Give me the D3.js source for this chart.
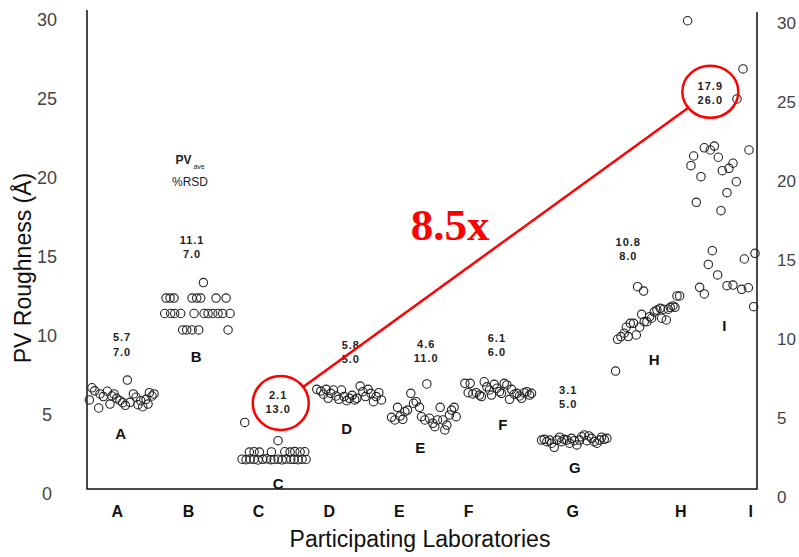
<!DOCTYPE html>
<html>
<head>
<meta charset="utf-8">
<script src="https://cdn.jsdelivr.net/npm/d3@7"></script>
<style>
  body { margin: 0; background: #fff; }
  svg { display: block; font-family: 'Liberation Sans', Arial, sans-serif; }
</style>
</head>
<body>
<div id="chart"></div>
<script>
// PV roughness by participating laboratory, each point is one run: [run position, PV (Å)]
const labs = ['A', 'B', 'C', 'D', 'E', 'F', 'G', 'H', 'I']
const labTickPos = [4.3, 15.0, 25.5, 36.1, 46.6, 57.0, 72.6, 88.8, 99.3]
const pvAve = ['5.7', '11.1', '2.1', '5.8', '4.6', '6.1', '3.1', '10.8', '17.9']
const pctRsd = ['7.0', '7.0', '13.0', '5.0', '11.0', '6.0', '5.0', '8.0', '26.0']
const yTicks = [0, 5, 10, 15, 20, 25, 30]

const labA = [
  [0.2, 5.70], [0.6, 6.47], [1.0, 6.28], [1.6, 5.19], [1.8, 6.08], [2.3, 5.91], [2.9, 6.25],
  [3.3, 5.44], [3.6, 5.95], [3.9, 6.08], [4.3, 5.80], [4.8, 5.65], [5.2, 5.53], [5.6, 5.36],
  [5.9, 6.96], [6.3, 5.55], [6.8, 6.08], [7.2, 5.87], [7.5, 5.40], [7.9, 5.65], [8.2, 5.27],
  [8.7, 5.74], [9.0, 5.44], [9.2, 6.16], [9.6, 5.95], [9.9, 6.08]
]
const labB = [
  [17.3, 13.13],
  [11.7, 12.15], [12.3, 12.15], [12.9, 12.15], [15.6, 12.15], [16.3, 12.15], [16.9, 12.15], [19.2, 12.15], [20.7, 12.15],
  [11.5, 11.17], [12.4, 11.17], [13.0, 11.17], [13.9, 11.17], [15.9, 11.17], [17.4, 11.17], [18.0, 11.17],
  [18.7, 11.17], [19.5, 11.17], [20.2, 11.17], [21.3, 11.17],
  [14.2, 10.13], [14.8, 10.13], [15.6, 10.13], [16.6, 10.13], [21.0, 10.13]
]
const labC = [
  [23.5, 4.28], [28.5, 3.12],
  [23.1, 1.95], [23.7, 1.92], [24.3, 1.96], [24.9, 1.93], [25.5, 1.90], [26.2, 1.94], [26.8, 1.97],
  [27.4, 1.92], [27.9, 1.93], [28.5, 1.95], [29.1, 1.91], [29.7, 1.96], [30.4, 1.93], [30.9, 1.94],
  [31.5, 1.92], [32.1, 1.95], [32.7, 1.93],
  [24.2, 2.40], [24.9, 2.42], [25.7, 2.40], [27.5, 2.41], [29.5, 2.42], [30.3, 2.40], [31.0, 2.43],
  [31.8, 2.41], [32.5, 2.42]
]
const labD = [
  [34.3, 6.37], [34.9, 6.26], [35.3, 6.06], [35.7, 6.37], [36.0, 5.80], [36.4, 6.12], [36.8, 6.33],
  [37.2, 5.95], [37.6, 5.74], [38.0, 6.33], [38.4, 5.91], [38.8, 5.65], [39.2, 5.80], [39.6, 5.99],
  [40.0, 5.70], [40.3, 5.80], [40.8, 6.58], [41.2, 6.22], [41.6, 5.91], [42.0, 6.37], [42.4, 6.12],
  [42.8, 5.59], [43.2, 5.91], [43.6, 6.16], [44.0, 5.70]
]
const labE = [
  [45.5, 4.60], [46.0, 4.43], [46.4, 5.23], [46.8, 4.68], [47.2, 4.47], [47.5, 4.96], [47.9, 5.06],
  [48.4, 6.12], [48.8, 5.49], [49.2, 5.59], [49.7, 5.23], [50.0, 4.64], [50.5, 4.43], [50.8, 6.71],
  [51.2, 4.54], [51.7, 4.22], [52.0, 4.01], [52.4, 4.43], [52.8, 5.23], [53.2, 4.43], [53.5, 3.80],
  [53.8, 4.11], [54.2, 4.75], [54.5, 5.06], [54.9, 5.23], [55.2, 4.64]
]
const labF = [
  [56.5, 6.75], [57.3, 6.75], [57.0, 6.16], [57.7, 6.08], [58.2, 6.16], [58.7, 6.01], [59.0, 5.91],
  [59.4, 6.85], [59.8, 6.53], [60.2, 6.33], [60.5, 6.01], [60.9, 6.69], [61.3, 6.44], [61.7, 6.22],
  [62.0, 6.12], [62.4, 6.75], [62.8, 6.65], [63.2, 5.74], [63.5, 6.37], [63.9, 6.06], [64.3, 6.12],
  [64.7, 5.95], [65.0, 5.80], [65.4, 6.16], [65.8, 6.22], [66.2, 6.01], [66.5, 6.12]
]
const labG = [
  [68.0, 3.16], [68.4, 3.21], [68.8, 3.06], [69.2, 3.16], [69.5, 2.96], [69.9, 2.70], [70.3, 3.16],
  [70.7, 3.34], [71.0, 3.06], [71.4, 3.21], [71.8, 3.16], [72.2, 2.96], [72.5, 3.27], [72.9, 3.12],
  [73.3, 2.85], [73.7, 3.16], [74.0, 3.37], [74.4, 3.48], [74.8, 3.12], [75.1, 3.42], [75.5, 3.27],
  [75.9, 3.06], [76.3, 2.96], [76.7, 3.16], [77.0, 3.34], [77.4, 3.21], [77.8, 3.27]
]
const labH = [
  [79.1, 7.53], [82.4, 12.87], [83.3, 12.59],
  [79.4, 9.54], [79.9, 9.71], [80.4, 9.92], [80.7, 10.30], [81.0, 9.71], [81.3, 10.55], [81.8, 10.55],
  [82.2, 9.81], [82.7, 10.30], [83.0, 11.12], [83.4, 10.65], [83.8, 10.65], [84.2, 10.97], [84.5, 10.87],
  [84.9, 11.28], [85.3, 11.39], [85.8, 11.50], [86.0, 10.87], [86.3, 11.44], [86.7, 10.76], [87.0, 11.44],
  [87.3, 11.56], [87.7, 11.65], [88.0, 11.56], [88.3, 12.28], [88.7, 12.28]
]
const labI = [
  [89.9, 29.70], [98.2, 26.65], [97.3, 24.75], [92.4, 21.66], [93.3, 21.52], [93.9, 21.77], [90.8, 21.14],
  [90.4, 20.53], [94.5, 21.06], [95.1, 20.21], [96.1, 20.36], [96.7, 20.68], [99.1, 21.52], [91.9, 19.83],
  [97.2, 19.51], [95.8, 18.82], [91.2, 18.21], [94.9, 17.68], [93.6, 15.15], [100.0, 14.98], [98.4, 14.62],
  [93.0, 14.28], [94.4, 13.61], [91.7, 12.83], [92.4, 12.41], [95.8, 12.93], [96.7, 12.97], [98.0, 12.70],
  [99.0, 12.80], [99.8, 11.60]
]
const runs = [labA, labB, labC, labD, labE, labF, labG, labH, labI]

// where the annotations sit, in chart units
const statAnchor = [[5.1, 9.68], [15.6, 15.82], [28.5, 6.01], [39.4, 9.18], [50.7, 9.24], [61.3, 9.62], [72.0, 6.33], [81.0, 15.70], [93.3, 25.57]]
const letterAnchor = [[4.9, 3.54], [16.2, 8.42], [28.5, 0.38], [38.8, 3.86], [49.8, 2.66], [62.2, 4.11], [73.0, 1.39], [84.9, 8.23], [95.4, 10.38]]

const width = 799
const height = 557

const svg = d3.select('#chart').append('svg')
  .attr('width', width)
  .attr('height', height)

svg.append('rect').attr('width', width).attr('height', height).attr('fill', '#fff')

const x = d3.scaleLinear().domain([0, 100]).range([88, 755])
const y = d3.scaleLinear().domain([0, 30]).range([490, 16])

// frame: left, bottom and right lines
const left = x(0) - 1
const right = x(100) + 2
const bottom = y(0) - 1
svg.append('path')
  .attr('d', `M${left},10 L${left},${bottom} L${right},${bottom} L${right},12`)
  .attr('fill', 'none')
  .attr('stroke', '#111')
  .attr('stroke-width', 1.5)

// y tick labels on both sides
let yl = svg.append('g')
  .attr('transform', 'translate(47,0)')
  .call(d3.axisLeft(y).tickValues(yTicks).tickSize(0).tickPadding(0))
yl.select('.domain').remove()
yl.selectAll('text')
  .attr('x', 0)
  .attr('dy', '0.55em')
  .attr('text-anchor', 'middle')
  .attr('font-size', 18)
  .attr('font-family', 'Liberation Sans, Arial, sans-serif')
  .attr('fill', '#444')

let yr = svg.append('g')
  .attr('transform', 'translate(777,0)')
  .call(d3.axisRight(y).tickValues(yTicks).tickSize(0).tickPadding(0))
yr.select('.domain').remove()
yr.selectAll('text')
  .attr('x', 0)
  .attr('dy', '0.75em')
  .attr('text-anchor', 'start')
  .attr('font-size', 17)
  .attr('font-family', 'Liberation Sans, Arial, sans-serif')
  .attr('fill', '#444')

// lab names under the frame
let xa = svg.append('g')
  .attr('transform', 'translate(0,506)')
  .call(d3.axisBottom(x).tickValues(labTickPos).tickFormat((d, i) => labs[i]).tickSize(0).tickPadding(0))
xa.select('.domain').remove()
xa.selectAll('text')
  .attr('font-size', 16)
  .attr('font-weight', 'bold')
  .attr('font-family', 'Liberation Sans, Arial, sans-serif')
  .attr('fill', '#111')

svg.append('text')
  .attr('x', 420)
  .attr('y', 547)
  .attr('text-anchor', 'middle')
  .attr('font-size', 23)
  .attr('fill', '#111')
  .text('Participating Laboratories')

svg.append('text')
  .attr('transform', 'translate(31,268) rotate(-90)')
  .attr('text-anchor', 'middle')
  .attr('font-size', 23)
  .attr('fill', '#111')
  .text('PV Roughness (Å)')

// runs
let lab = svg.selectAll('.lab')
  .data(runs)
  .enter()
  .append('g')
  .attr('class', 'lab')
lab.selectAll('circle')
  .data(d => d)
  .enter()
  .append('circle')
  .attr('cx', d => x(d[0]))
  .attr('cy', d => y(d[1]))
  .attr('r', 4.2)
  .attr('fill', 'none')
  .attr('stroke', '#222')
  .attr('stroke-width', 1.1)

// lab letters near each cluster
svg.selectAll('.letter')
  .data(labs)
  .enter()
  .append('text')
  .attr('class', 'letter')
  .attr('x', (d, i) => x(letterAnchor[i][0]))
  .attr('y', (d, i) => y(letterAnchor[i][1]))
  .attr('dy', '0.36em')
  .attr('text-anchor', 'middle')
  .attr('font-size', 15)
  .attr('font-weight', 'bold')
  .attr('fill', '#111')
  .text(d => d)

// PVave / %RSD pairs
let stat = svg.selectAll('.stat')
  .data(labs)
  .enter()
  .append('g')
  .attr('class', 'stat')
  .attr('transform', (d, i) => `translate(${x(statAnchor[i][0])},${y(statAnchor[i][1])})`)
  .attr('text-anchor', 'middle')
  .attr('font-size', 11)
  .attr('font-weight', 'bold')
  .attr('letter-spacing', 1)
  .attr('fill', '#222')
stat.append('text')
  .attr('dy', '0.36em')
  .text((d, i) => pvAve[i])
stat.append('text')
  .attr('dy', '0.36em')
  .attr('y', 14.5)
  .text((d, i) => pctRsd[i])

let key = svg.append('g')
  .attr('font-size', 12)
  .attr('fill', '#222')
  .attr('text-anchor', 'middle')
key.append('text')
  .attr('x', x(15.3))
  .attr('y', y(20.89))
  .attr('dy', '0.36em')
  .attr('font-weight', 'bold')
  .text('PV')
  .append('tspan')
  .attr('dx', 2)
  .attr('dy', 5)
  .attr('font-size', 7)
  .attr('font-weight', 'normal')
  .text('ave')
key.append('text')
  .attr('x', x(15.3))
  .attr('y', y(19.49))
  .attr('dy', '0.36em')
  .text('%RSD')

// red call-out: C vs I
const lo = [x(28.9), y(5.5)]
const hi = [x(93.3), y(25.2)]
const rad = 28
const len = Math.hypot(hi[0] - lo[0], hi[1] - lo[1])
const ux = (hi[0] - lo[0]) / len
const uy = (hi[1] - lo[1]) / len
let red = svg.append('g')
  .attr('fill', 'none')
  .attr('stroke', '#f00')
  .attr('stroke-width', 2.5)
red.append('ellipse').attr('cx', lo[0]).attr('cy', lo[1]).attr('rx', rad).attr('ry', 27)
red.append('ellipse').attr('cx', hi[0]).attr('cy', hi[1]).attr('rx', rad).attr('ry', 26)
red.append('line')
  .attr('x1', lo[0] + ux * rad)
  .attr('y1', lo[1] + uy * rad)
  .attr('x2', hi[0] - ux * rad)
  .attr('y2', hi[1] - uy * rad)

svg.append('text')
  .attr('x', x(54.3))
  .attr('y', y(15.82))
  .attr('text-anchor', 'middle')
  .attr('font-family', 'Liberation Serif, Times New Roman, serif')
  .attr('font-weight', 'bold')
  .attr('font-size', 45)
  .attr('fill', '#f00')
  .text('8.5x')
</script>
</body>
</html>
